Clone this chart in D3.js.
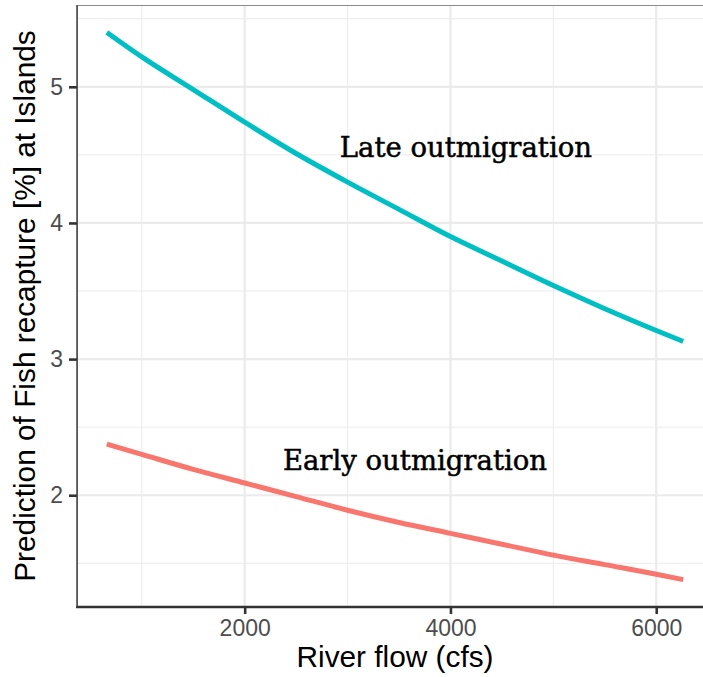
<!DOCTYPE html>
<html>
<head>
<meta charset="utf-8">
<script src="https://cdn.jsdelivr.net/npm/d3@7"></script>
<style>
  html, body { margin: 0; padding: 0; background: #fff; }
  svg { display: block; }
</style>
</head>
<body>
<svg id="chart" width="703" height="677"></svg>
<script>
// ---- data ----
const flow = [660, 1000, 1500, 2000, 2500, 3000, 3500, 4000, 4500, 5000, 5500, 6000, 6262];
const lateValues  = [5.40, 5.22, 4.98, 4.74, 4.51, 4.30, 4.10, 3.90, 3.72, 3.54, 3.37, 3.21, 3.13];
const earlyValues = [2.375, 2.30, 2.19, 2.09, 1.99, 1.89, 1.80, 1.72, 1.64, 1.56, 1.49, 1.42, 1.38];
const seriesNames = ["Early outmigration", "Late outmigration"];
const seriesColors = ["#F8766D", "#00BFC4"];
const labelX = [3655, 4150];
const labelY = [2.26, 4.56];
const xTicks = [2000, 4000, 6000];
const xMinor = [1000, 3000, 5000];
const yTicks = [2, 3, 4, 5];
const yMinor = [1.5, 2.5, 3.5, 4.5, 5.5];
const xTitle = "River flow (cfs)";
const yTitle = "Prediction of Fish recapture [%] at Islands";

// ---- layout ----
const svg = d3.select("#chart");
const panel = { left: 78, right: 712, top: 5, bottom: 607 };

const series = [earlyValues, lateValues].map((vals, i) => ({
  name: seriesNames[i], color: seriesColors[i],
  points: flow.map((f, j) => ({ x: f, y: vals[j] }))
}));

const xExt = d3.extent(flow);
const xPad = (xExt[1] - xExt[0]) * 0.05;
const allY = earlyValues.concat(lateValues);
const yExt = d3.extent(allY);
const yPad = (yExt[1] - yExt[0]) * 0.05;

const x = d3.scaleLinear().domain([xExt[0] - xPad, xExt[1] + xPad]).range([panel.left, panel.right]);
const y = d3.scaleLinear().domain([yExt[0] - yPad, yExt[1] + yPad]).range([panel.bottom, panel.top]);

const grid = svg.append("g");
// minor grid
grid.selectAll(".xm").data(xMinor).join("line")
  .attr("x1", d => x(d)).attr("x2", d => x(d))
  .attr("y1", panel.top).attr("y2", panel.bottom)
  .attr("stroke", "#ebebeb").attr("stroke-width", 1);
grid.selectAll(".ym").data(yMinor).join("line")
  .attr("y1", d => y(d)).attr("y2", d => y(d))
  .attr("x1", panel.left).attr("x2", panel.right)
  .attr("stroke", "#ebebeb").attr("stroke-width", 1);
// major grid
grid.selectAll(".xM").data(xTicks).join("line")
  .attr("x1", d => x(d)).attr("x2", d => x(d))
  .attr("y1", panel.top).attr("y2", panel.bottom)
  .attr("stroke", "#ebebeb").attr("stroke-width", 2.2);
grid.selectAll(".yM").data(yTicks).join("line")
  .attr("y1", d => y(d)).attr("y2", d => y(d))
  .attr("x1", panel.left).attr("x2", panel.right)
  .attr("stroke", "#ebebeb").attr("stroke-width", 2.2);

// panel border
svg.append("rect")
  .attr("x", panel.left - 0.5).attr("y", panel.top + 0.5)
  .attr("width", panel.right - panel.left + 10).attr("height", panel.bottom - panel.top)
  .attr("fill", "none").attr("stroke", "#8a8a8a").attr("stroke-width", 1);

// lines
const line = d3.line().x(d => x(d.x)).y(d => y(d.y)).curve(d3.curveMonotoneX);
svg.append("g").selectAll("path").data(series).join("path")
  .attr("d", d => line(d.points))
  .attr("fill", "none")
  .attr("stroke", d => d.color)
  .attr("stroke-width", 5);

// annotations
svg.append("g").selectAll("text").data(seriesNames).join("text")
  .attr("x", (d, i) => x(labelX[i]))
  .attr("y", (d, i) => y(labelY[i]))
  .attr("text-anchor", "middle")
  .attr("dominant-baseline", "central")
  .attr("font-family", "'DejaVu Serif', serif")
  .attr("font-size", 27.5)
  .attr("fill", "#000")
  .attr("stroke", "#000").attr("stroke-width", 0.5)
  .text(d => d);

// axes
const xAxis = svg.append("g").attr("transform", `translate(0,${panel.bottom})`)
  .call(d3.axisBottom(x).tickValues(xTicks).tickSize(7).tickPadding(6).tickFormat(d3.format("d")));
const yAxis = svg.append("g").attr("transform", `translate(${panel.left - 1},0)`)
  .call(d3.axisLeft(y).tickValues(yTicks).tickSize(8).tickPadding(6).tickFormat(d3.format("d")));

xAxis.select(".domain").attr("stroke", "#333").attr("stroke-width", 2.6)
  .attr("d", `M${panel.left - 2},0H${703}`);
yAxis.select(".domain").attr("stroke", "#444").attr("stroke-width", 1.5)
  .attr("d", `M0,${panel.top}V${panel.bottom}`);
[xAxis, yAxis].forEach(a => {
  a.selectAll(".tick line").attr("stroke", "#333").attr("stroke-width", 2.6);
  a.selectAll(".tick text").attr("fill", "#4d4d4d")
    .attr("font-family", "'Liberation Sans', Arial, sans-serif").attr("font-size", 23);
});

// titles
svg.append("text")
  .attr("x", (panel.left + panel.right) / 2).attr("y", 667)
  .attr("text-anchor", "middle")
  .attr("font-family", "'Liberation Sans', Arial, sans-serif").attr("font-size", 29.8)
  .attr("fill", "#000").text(xTitle);
svg.append("text")
  .attr("transform", `translate(35,${(panel.top + panel.bottom) / 2}) rotate(-90)`)
  .attr("text-anchor", "middle")
  .attr("font-family", "'Liberation Sans', Arial, sans-serif").attr("font-size", 29.8)
  .attr("fill", "#000").text(yTitle);
</script>
</body>
</html>
